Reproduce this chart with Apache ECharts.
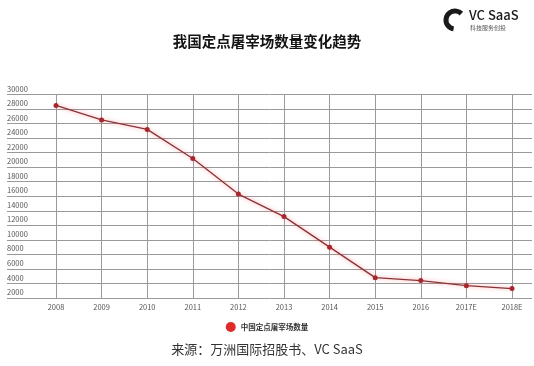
<!DOCTYPE html>
<html>
<head>
<meta charset="utf-8">
<script src="https://cdn.jsdelivr.net/npm/echarts@6/dist/echarts.min.js"></script>
<style>
  html, body { margin: 0; padding: 0; background: #fff; }
  #chart { width: 534px; height: 366px; }
</style>
</head>
<body>
<div id="chart"></div>
<script>
// Years on the x axis (E = estimate)
const years = ['2008', '2009', '2010', '2011', '2012', '2013', '2014', '2015', '2016', '2017E', '2018E'];
// Number of designated slaughterhouses in China
const slaughterhouses = [28500, 26500, 25200, 21200, 16300, 13200, 9000, 4800, 4400, 3700, 3300];
// Value axis range and step
const yMin = 2000;
const yMax = 30000;
const yStep = 2000;

const seriesName = '中国定点屠宰场数量';
const titleText = '我国定点屠宰场数量变化趋势';
const sourceText = '来源：万洲国际招股书、VC SaaS';

const FONT = '"Noto Sans CJK SC", "Noto Sans", sans-serif';
const gridTop = 94.5;
const gridBottom = 68;

const chart = echarts.init(document.getElementById('chart'), null, { renderer: 'canvas' });

chart.setOption({
  backgroundColor: '#ffffff',
  animation: false,
  title: {
    text: titleText,
    left: 'center',
    top: 29,
    textStyle: { fontFamily: FONT, fontSize: 14.5, fontWeight: 'bold', color: '#141414' }
  },
  legend: {
    top: 317,
    left: 'center',
    itemWidth: 10,
    itemHeight: 10,
    itemGap: 6,
    data: [{ name: seriesName, icon: 'circle', itemStyle: { color: '#e02a2a' } }],
    textStyle: { fontFamily: FONT, fontSize: 7.5, fontWeight: 'bold', color: '#333' }
  },
  grid: [
    // wide grid carrying the horizontal rules and their labels
    { left: 7, right: 2, top: gridTop, bottom: gridBottom },
    // plot grid for the series and the year axis
    { left: 56, right: 22, top: gridTop, bottom: gridBottom }
  ],
  xAxis: [
    { gridIndex: 0, type: 'value', min: 0, max: 1, show: false },
    {
      gridIndex: 1,
      type: 'category',
      data: years,
      boundaryGap: false,
      axisLine: { show: false },
      axisTick: { show: false },
      axisLabel: { margin: 5, fontFamily: FONT, fontSize: 7.5, color: '#555' },
      splitLine: { show: true, lineStyle: { color: '#9a9a9a', width: 1 } }
    }
  ],
  yAxis: [
    {
      gridIndex: 0,
      type: 'value',
      min: yMin,
      max: yMax,
      interval: yStep,
      axisLine: { show: false },
      axisTick: { show: false },
      axisLabel: {
        inside: true,
        margin: 0,
        align: 'left',
        verticalAlign: 'bottom',
        padding: [0, 0, 2, 0],
        formatter: (v) => String(v),
        fontFamily: FONT,
        fontSize: 7.5,
        color: '#555'
      },
      splitLine: { show: true, lineStyle: { color: '#9a9a9a', width: 1 } }
    },
    {
      gridIndex: 1,
      type: 'value',
      min: yMin,
      max: yMax,
      interval: yStep,
      show: false,
      splitLine: { show: false }
    }
  ],
  series: [
    {
      name: seriesName,
      type: 'line',
      xAxisIndex: 1,
      yAxisIndex: 1,
      data: slaughterhouses,
      symbol: 'circle',
      symbolSize: 5,
      itemStyle: { color: '#a8262c' },
      lineStyle: {
        color: '#8a3338',
        width: 1.3,
        shadowColor: 'rgba(255, 60, 60, 0.55)',
        shadowBlur: 4
      }
    }
  ],
  graphic: [
    {
      type: 'text',
      left: 'center',
      top: 343,
      style: { text: sourceText, font: '13px ' + FONT, fill: '#333' }
    },
    // VC SaaS mark
    {
      type: 'arc',
      shape: { cx: 455, cy: 20, r: 9, startAngle: Math.PI * 0.55, endAngle: Math.PI * 1.75 },
      style: { stroke: '#1a1a1a', lineWidth: 5, fill: null, lineCap: 'butt' }
    },
    {
      type: 'text',
      left: 469,
      top: 9,
      style: { text: 'VC SaaS', font: '500 13px ' + FONT, fill: '#1a1a1a' }
    },
    {
      type: 'text',
      left: 470,
      top: 25,
      style: { text: '科技服务创投', font: '6px ' + FONT, fill: '#555' }
    }
  ]
});
</script>
</body>
</html>
